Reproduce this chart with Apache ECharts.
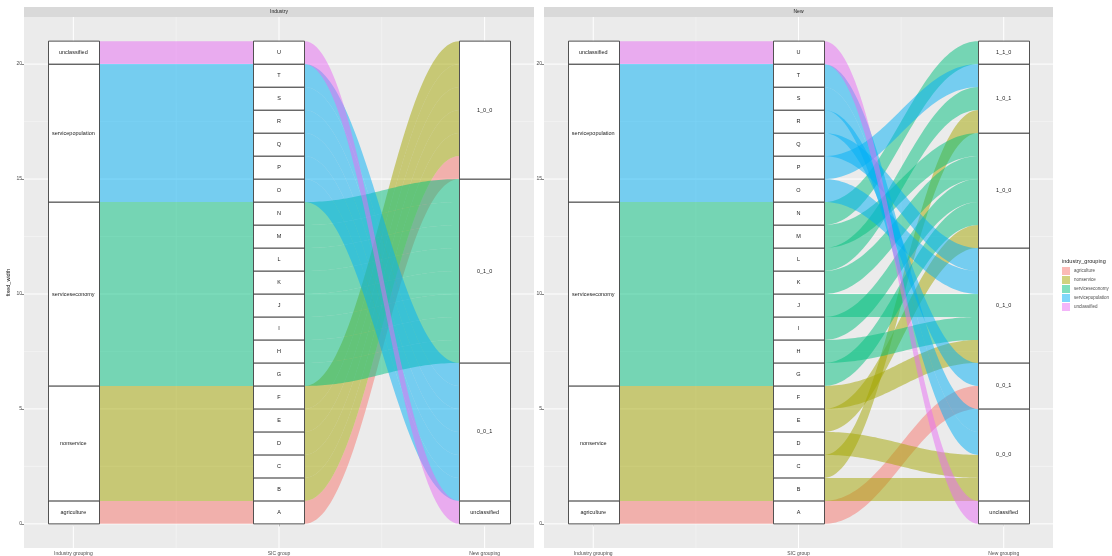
<!DOCTYPE html>
<html><head><meta charset="utf-8">
<script src="https://cdn.jsdelivr.net/npm/echarts@6/dist/echarts.min.js"></script>
<style>html,body{margin:0;padding:0;background:#fff}#c{width:1112px;height:556px}</style>
</head><body><div id="c"></div><script>
// ---------------- data ----------------
const sicGroups = ['A','B','C','D','E','F','G','H','I','J','K','L','M','N','O','P','Q','R','S','T','U'];
const fixedWidth = [1,1,1,1,1,1,1,1,1,1,1,1,1,1,1,1,1,1,1,1,1];
const industryGrouping = ['agriculture','nonservice','nonservice','nonservice','nonservice','nonservice',
  'serviceseconomy','serviceseconomy','serviceseconomy','serviceseconomy','serviceseconomy','serviceseconomy','serviceseconomy','serviceseconomy',
  'servicepopulation','servicepopulation','servicepopulation','servicepopulation','servicepopulation','servicepopulation','unclassified'];
const newGroupingIndustry = ['1_0_0','1_0_0','1_0_0','1_0_0','1_0_0','1_0_0',
  '0_1_0','0_1_0','0_1_0','0_1_0','0_1_0','0_1_0','0_1_0','0_1_0',
  '0_0_1','0_0_1','0_0_1','0_0_1','0_0_1','0_0_1','unclassified'];
const newGroupingNew = ['0_0_1','0_0_0','1_0_1','0_0_0','1_0_0','0_1_0',
  '1_0_0','0_1_0','1_0_0','0_1_0','1_0_0','1_0_1','1_0_0','1_1_0',
  '0_1_0','1_0_1','0_1_0','0_0_1','0_0_0','0_0_0','unclassified'];
// stratum order, bottom to top
const industryLevels = ['agriculture','nonservice','serviceseconomy','servicepopulation','unclassified'];
const newLevels = ['unclassified','0_0_0','0_0_1','0_1_0','1_0_0','1_0_1','1_1_0'];
const facetNames = ['Industry','New'];
const axisNames = ['Industry grouping','SIC group','New grouping'];
const yTicks = [0,5,10,15,20];
const yMinorTicks = [2.5,7.5,12.5,17.5];
const xMajor = [1,2,3];
const xMinor = [1.5,2.5];
const groupColors = ['#F8766D','#A3A500','#00BF7D','#00B0F6','#E76BF3'];

// ---------------- layout constants ----------------
const HALF = 0.124;      // half stratum width (axis units)
const CURV = 0.4;        // bezier control fraction
const XMIN = 0.76, XMAX = 3.24, YMIN = -1.05, YMAX = 22.05;
const ALPHA = 0.5;
const FONT = '"Liberation Sans", Arial, sans-serif';

function rgba(hex, a){
  const n = parseInt(hex.slice(1),16);
  return 'rgba(' + ((n>>16)&255) + ',' + ((n>>8)&255) + ',' + (n&255) + ',' + a + ')';
}

function stackAxis(values, levels){
  let y = 0; const lodes = new Array(values.length); const strata = [];
  levels.forEach(lv => {
    const start = y;
    values.forEach((v,i) => { if (v === lv){ lodes[i] = [y, y + fixedWidth[i]]; y += fixedWidth[i]; } });
    if (y > start) strata.push([lv, start, y]);
  });
  return {lodes, strata};
}

function bez(P, Q, t){
  const dx = Q[0]-P[0];
  const x0=P[0], x1=P[0]+CURV*dx, x2=Q[0]-CURV*dx, x3=Q[0];
  const y0=P[1], y1=P[1], y2=Q[1], y3=Q[1];
  const u = 1-t;
  return [u*u*u*x0 + 3*u*u*t*x1 + 3*u*t*t*x2 + t*t*t*x3,
          u*u*u*y0 + 3*u*u*t*y1 + 3*u*t*t*y2 + t*t*t*y3];
}

function flowRender(params, api){
  const k = api.value(0);
  const xa = k + 1 + HALF, xb = k + 2 - HALF;
  const lo0 = api.value(1), hi0 = api.value(2), lo1 = api.value(3), hi1 = api.value(4);
  const A = api.coord([xa, hi0]), B = api.coord([xb, hi1]);
  const C = api.coord([xa, lo0]), D = api.coord([xb, lo1]);
  const N = 60, pts = [];
  for (let j=0;j<=N;j++) pts.push(bez(A,B,j/N));
  for (let j=N;j>=0;j--) pts.push(bez(C,D,j/N));
  return {type:'polygon', shape:{points:pts}, style:{fill: api.visual('color')}};
}

function makeStrataRender(labels){
  return function(params, api){
    const pos = api.value(0), lo = api.value(1), hi = api.value(2);
    const p0 = api.coord([pos-HALF, hi]), p1 = api.coord([pos+HALF, lo]);
    const label = labels[params.dataIndex];
    return {type:'group', children:[
      {type:'rect', shape:{x:Math.round(p0[0])+0.5, y:p0[1], width:Math.round(p1[0]-p0[0]), height:p1[1]-p0[1]},
        style:{fill:'#ffffff', stroke:'#404040', lineWidth:0.9}},
      {type:'text', x:(p0[0]+p1[0])/2, y:(p0[1]+p1[1])/2,
        style:{text:label, fill:'#1a1a1a', font:'5.5px ' + FONT, align:'center', verticalAlign:'middle'}}
    ]};
  };
}

function gridRender(params, api){
  const dir = api.value(0), v = api.value(1), major = api.value(2);
  let a, b;
  if (dir === 0){ a = api.coord([v, YMIN]); b = api.coord([v, YMAX]); }
  else { a = api.coord([XMIN, v]); b = api.coord([XMAX, v]); }
  return {type:'line', shape:{x1:a[0], y1:a[1], x2:b[0], y2:b[1]},
    style:{stroke: major ? '#ffffff' : '#f6f6f6', lineWidth: major ? 1 : 0.6}};
}

const gridData = [];
xMajor.forEach(v => gridData.push([0, v, 1]));
xMinor.forEach(v => gridData.push([0, v, 0]));
yTicks.forEach(v => gridData.push([1, v, 1]));
yMinorTicks.forEach(v => gridData.push([1, v, 0]));

const facetNewGroupings = [newGroupingIndustry, newGroupingNew];
const facetNewLevels = [['unclassified','0_0_1','0_1_0','1_0_0'], newLevels];
const panelLeft = [24, 544], panelWidth = [510, 509];
const PTOP = 17, PH = 532;

const grids = [], xAxes = [], yAxes = [], series = [], graphics = [];
facetNames.forEach((fname, f) => {
  grids.push({left: panelLeft[f], top: PTOP, width: panelWidth[f], height: PH, show: true,
    backgroundColor: '#EBEBEB', borderWidth: 0, containLabel: false});
  xAxes.push({type:'value', gridIndex:f, min:XMIN, max:XMAX,
    axisLine:{show:false}, splitLine:{show:false},
    axisTick:{show:true, customValues:xMajor, length:2.5, lineStyle:{color:'#333', width:0.6}},
    axisLabel:{show:true, customValues:xMajor, fontSize:5, color:'#4d4d4d', margin:3,
      fontFamily:'Liberation Sans', formatter: v => axisNames[Math.round(v)-1] || ''}});
  yAxes.push({type:'value', gridIndex:f, min:YMIN, max:YMAX,
    axisLine:{show:false}, splitLine:{show:false},
    name: f === 0 ? 'fixed_width' : '', nameLocation:'middle', nameGap:13, nameRotate:90,
    nameTextStyle:{fontSize:5.5, color:'#1a1a1a', fontFamily:'Liberation Sans'},
    axisTick:{show:true, customValues:yTicks, length:2.5, lineStyle:{color:'#333', width:0.6}},
    axisLabel:{show:true, customValues:yTicks, fontSize:5, color:'#4d4d4d', margin:2, fontFamily:'Liberation Sans'}});

  series.push({type:'custom', name:'grid'+f, xAxisIndex:f, yAxisIndex:f, renderItem:gridRender,
    data:gridData, silent:true, z:1, clip:true});

  const axesValues = [industryGrouping, sicGroups, facetNewGroupings[f]];
  const axesLevels = [industryLevels, sicGroups, facetNewLevels[f]];
  const stacks = axesValues.map((vals, a) => stackAxis(vals, axesLevels[a]));

  industryLevels.forEach((grp, gi) => {
    const data = [];
    sicGroups.forEach((s, i) => {
      if (industryGrouping[i] !== grp) return;
      for (let k=0;k<2;k++){
        data.push([k, stacks[k].lodes[i][0], stacks[k].lodes[i][1], stacks[k+1].lodes[i][0], stacks[k+1].lodes[i][1]]);
      }
    });
    series.push({type:'custom', name:grp, xAxisIndex:f, yAxisIndex:f, renderItem:flowRender,
      itemStyle:{color: rgba(groupColors[gi], ALPHA)}, data:data, z:2, clip:true});
  });

  const sdata = [], slabels = [];
  stacks.forEach((st, a) => st.strata.forEach(s => { sdata.push([a+1, s[1], s[2]]); slabels.push(s[0]); }));
  series.push({type:'custom', name:'strata'+f, xAxisIndex:f, yAxisIndex:f, renderItem:makeStrataRender(slabels),
    data:sdata, z:3, silent:true});

  graphics.push({type:'rect', left:panelLeft[f], top:7, shape:{width:panelWidth[f], height:10},
    style:{fill:'#D9D9D9'}});
  graphics.push({type:'text', x: panelLeft[f] + panelWidth[f]/2, y:12,
    style:{text:fname, fill:'#1a1a1a', font:'5px ' + FONT, align:'center', verticalAlign:'middle'}});
});

const chart = echarts.init(document.getElementById('c'), null, {renderer:'canvas'});
chart.setOption({
  animation:false,
  backgroundColor:'#ffffff',
  grid:grids, xAxis:xAxes, yAxis:yAxes, series:series, graphic:graphics,
  title:{text:'industry_grouping', left:1062, top:258, padding:0,
    textStyle:{fontSize:5.5, fontWeight:'normal', color:'#1a1a1a', fontFamily:'Liberation Sans'}},
  legend:{data:industryLevels, orient:'vertical', left:1062, top:267, padding:0,
    itemWidth:8, itemHeight:8, itemGap:1, icon:'rect',
    textStyle:{fontSize:4.5, color:'#4d4d4d', fontFamily:'Liberation Sans', padding:[0,0,0,-1]}}
});
</script></body></html>
